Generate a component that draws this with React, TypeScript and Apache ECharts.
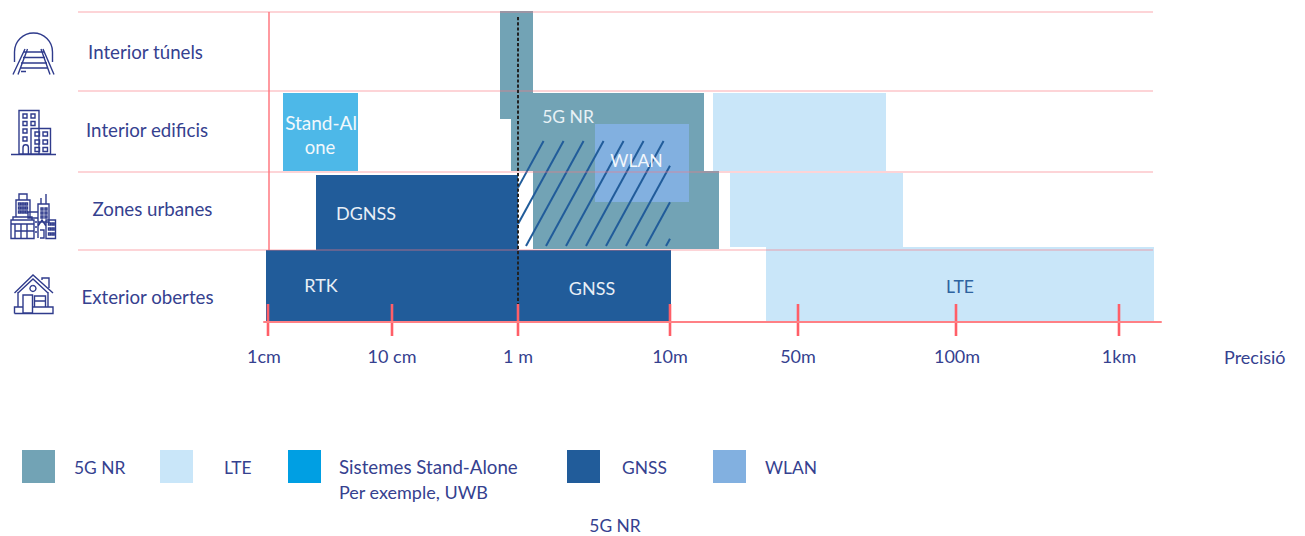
import React, { useEffect, useRef } from "react";
import * as echarts from "echarts";

const FONT = "Lato";
const INK = "#35418f";
const C = { nr: "#72a3b5", lte: "#c9e6f9", sa: "#4db8e8", saKey: "#009fe3", gnss: "#215c9a", wlan: "#82b0e0" };

// x axis: position along the precision scale; y axis: height above the baseline
const tickLabels = ["1cm", "10 cm", "1 m", "10m", "50m", "100m", "1km"];
const tickValues = [0, 124, 250, 402, 530, 688, 851];
const labelValues = [-4, 124, 250, 402, 530, 689, 851];
const rowLines = [310, 231, 150, 72];
const rowNames = ["Interior túnels", "Interior edificis", "Zones urbanes", "Exterior obertes"];
const rowNameX = [-122.5, -121, -115.5, -120.5];
const rowNameY = [270, 192, 113, 25];

// [x0, x1, y0, y1]
const lteBars = [[445, 618, 151, 229], [462, 635, 75, 149], [498, 886, 0, 75]];
const nrBars = [[232, 265, 203, 311], [243, 436, 151, 229], [232, 265, 229, 230], [265, 451, 73, 151]];
const saBars = [[15, 90, 151, 229]];
const gnssBars = [[48, 250, 72, 147], [-2, 250, 0, 72], [250, 403, 0, 72]];
const wlanBars = [[327, 421, 120, 198]];

const hatchBase = [218, 238, 258, 278, 298, 318, 338, 358, 378, 398];
const hatchX = [250, 402];
const hatchY = [76, 181];
const hatchSlope = 57 / 104;

const barTexts = ["Stand-Al", "one", "DGNSS", "RTK", "GNSS", "5G NR", "WLAN", "LTE"];
const barTextX = [53, 52, 98, 53, 324, 300, 368.5, 692];
const barTextY = [200, 175, 109, 37, 34, 206, 162, 36];
const barTextSize = [19, 18.5, 18, 18, 18, 17.5, 17.5, 17.5];
const barTextColor = ["#f2f8fc", "#f2f8fc", "#e8eff6", "#e8eff6", "#e8eff6", "#e8f1f5", "#f2f7fc", "#2e639f"];

const legendNames = ["5G NR", "LTE", "GNSS", "WLAN"];
const legendColors = [C.nr, C.lte, C.gnss, C.wlan];
const legendBoxX = [22, 160, 567, 713];
const legendTextX = [74, 224, 622, 765];

const sq = (x: number, y: number, w: number, h: number) => `M${x} ${y}h${w}v${h}h${-w}z`;
const grid = (xs: number[], ys: number[], w: number, h: number) =>
  xs.flatMap((x) => ys.map((y) => sq(x, y, w, h))).join("");

const iconTunnel =
  "M14.5 62V52A19 19 0 0 1 52.5 52V62M25 49L13 74.5M27.5 49L18 74.5M43 49L54 74.5M41 49L50 74.5" +
  "M24 52H44M23 57.5H45M21 63H47M20 68H48M21 71.5H26";
const iconBuilding =
  sq(19, 110.5, 20, 43.5) + sq(31, 128.5, 19.5, 25.5) + "M11 154.5H56M23 154V147.5A2.7 2.7 0 0 1 28.4 147.5V154" +
  grid([23, 31], [114, 121.5], 4, 4) + grid([23], [129, 137], 4, 4) + grid([35, 43], [132, 140, 147.5], 4.5, 4);
const iconCity =
  sq(16, 200, 14, 17) + sq(19, 194, 8, 6) + sq(38, 204, 11, 18) + "M41 204V198M46 204V194" +
  grid([18.5, 22, 25.5], [203, 207, 211], 2, 2) + grid([41, 45], [208, 212, 216], 2, 2) +
  sq(11, 220, 23, 18.5) + "M13 220V217H32V220" + "M11 224H34M15 224V238M21 224V238M27 224V238M15 231H34" +
  sq(28, 212, 10, 6) + "M34 218H38V238M35 222h2M35 227h2M35 232h2" +
  "M38 238V226L42 220L46 226V238M40 230H44V238H40" + sq(46, 220, 9.5, 18.5) + grid([48.5, 52], [223, 228, 233], 2, 2);
const iconHouse =
  "M14.5 293L33 275L53 293M18 293L33 279L48 293M42 280V278H49V288" +
  "M33 285.5A3 3 0 1 1 32.9 285.5M18 292V307M48 292V307" +
  sq(23, 295, 9.5, 18) + sq(34.5, 296, 11, 11) + "M34.5 301H45.5M14.5 313.5H53V307H32.5M23 307H14.5V313.5";

echarts.graphic.registerShape("iconTunnel", echarts.graphic.extendPath(iconTunnel, {}) as any);
echarts.graphic.registerShape("iconBuilding", echarts.graphic.extendPath(iconBuilding, {}) as any);
echarts.graphic.registerShape("iconCity", echarts.graphic.extendPath(iconCity, {}) as any);
echarts.graphic.registerShape("iconHouse", echarts.graphic.extendPath(iconHouse, {}) as any);

const barSeries = (data: number[][], color: string, z: number) => ({
  type: "custom",
  z,
  silent: true,
  clip: false,
  data,
  renderItem: (_: any, api: any) => {
    const a = api.coord([api.value(0), api.value(3)]);
    const b = api.coord([api.value(1), api.value(2)]);
    return { type: "rect", shape: { x: a[0], y: a[1], width: b[0] - a[0], height: b[1] - a[1] }, style: { fill: color } };
  },
});

const segSeries = (data: number[][], stroke: string, lineWidth: number, z: number, lineDash?: number[]) => ({
  type: "custom",
  z,
  silent: true,
  clip: false,
  data,
  renderItem: (_: any, api: any) => {
    const a = api.coord([api.value(0), api.value(1)]);
    const b = api.coord([api.value(2), api.value(3)]);
    return {
      type: "line",
      shape: { x1: a[0], y1: a[1], x2: b[0], y2: b[1] },
      style: { stroke, lineWidth, lineDash },
    };
  },
});

const textSeries = (
  texts: string[],
  xs: number[],
  ys: number[],
  colors: string[] | string,
  sizes: number[] | number,
  z: number,
) => ({
  type: "custom",
  z,
  silent: true,
  clip: false,
  data: texts.map((_, i) => [xs[i], ys[i]]),
  renderItem: (p: any, api: any) => {
    const a = api.coord([api.value(0), api.value(1)]);
    const size = Array.isArray(sizes) ? sizes[p.dataIndex] : sizes;
    return {
      type: "text",
      x: a[0],
      y: a[1],
      style: {
        text: texts[p.dataIndex],
        fill: Array.isArray(colors) ? colors[p.dataIndex] : colors,
        font: `${size}px ${FONT}`,
        align: "center",
        verticalAlign: "middle",
      },
    };
  },
});

const hatchSegments = hatchBase.map((x0) => {
  const at = (x: number) => hatchY[0] + (x - x0) / hatchSlope;
  let xa = x0;
  let ya = hatchY[0];
  let xb = x0 + (hatchY[1] - hatchY[0]) * hatchSlope;
  let yb = hatchY[1];
  if (xa < hatchX[0]) { xa = hatchX[0]; ya = at(xa); }
  if (xb > hatchX[1]) { xb = hatchX[1]; yb = at(xb); }
  return [xa, ya, xb, yb];
});

export default function App() {
  const ref = useRef<HTMLDivElement>(null);
  useEffect(() => {
    document.body.style.margin = "0";
    const chart = echarts.init(ref.current!, null, { renderer: "svg" });
    const legendGraphics: any[] = [];
    legendNames.forEach((n, i) => {
      legendGraphics.push({ type: "rect", x: legendBoxX[i], y: 450, shape: { width: 33, height: 33 }, style: { fill: legendColors[i] } });
      legendGraphics.push({ type: "text", x: legendTextX[i], y: 467, style: { text: n, fill: INK, font: `17.4px ${FONT}`, verticalAlign: "middle" } });
    });
    const iconStyle = { fill: "none", stroke: "#2f3b8c", lineWidth: 1.4 };
    chart.setOption({
      animation: false,
      grid: { left: 264, right: 144, top: 12, bottom: 214 },
      xAxis: {
        type: "value",
        min: -4,
        max: 893,
        z: 10,
        name: "Precisió",
        nameLocation: "end",
        nameGap: 63,
        nameTextStyle: { color: INK, fontFamily: FONT, fontSize: 18, verticalAlign: "top", lineHeight: 70 },
        axisLine: { show: true, lineStyle: { color: "#ff8085", width: 2 } },
        axisTick: { show: false },
        splitLine: { show: false },
        axisLabel: {
          margin: 25,
          color: INK,
          fontFamily: FONT,
          fontSize: 18,
          customValues: labelValues,
          hideOverlap: false,
          showMinLabel: true,
          showMaxLabel: true,
          formatter: (v: number) => tickLabels[labelValues.indexOf(v)] ?? "",
        },
      },
      yAxis: { type: "value", min: 0, max: 310, show: false },
      series: [
        segSeries([[1, 310, 1, 72]], "#ff9aa0", 2, 1),
        barSeries(lteBars, C.lte, 2),
        barSeries(nrBars, C.nr, 3),
        barSeries(saBars, C.sa, 3),
        barSeries(gnssBars, C.gnss, 4),
        barSeries(wlanBars, C.wlan, 5),
        segSeries(hatchSegments, C.gnss, 2, 6),
        segSeries(rowLines.map((y) => [-190, y, 885, y]), "rgba(251,120,128,0.42)", 1.6, 7),
        segSeries([[250, 305, 250, 18]], "#222222", 2, 8, [3.2, 2]),
        segSeries(tickValues.map((x) => [x, 18, x, -14]), "#ff5f68", 2.6, 9),
        textSeries(barTexts, barTextX, barTextY, barTextColor, barTextSize, 11),
        textSeries(rowNames, rowNameX, rowNameY, INK, 18.7, 11),
      ],
      graphic: [
        { type: "iconTunnel", x: 0, y: 0, style: iconStyle },
        { type: "iconBuilding", x: 0, y: 0, style: iconStyle },
        { type: "iconCity", x: 0, y: 0, style: iconStyle },
        { type: "iconHouse", x: 0, y: 0, style: iconStyle },
        ...legendGraphics,
        { type: "rect", x: 288, y: 450, shape: { width: 33, height: 33 }, style: { fill: C.saKey } },
        { type: "text", x: 339, y: 467, style: { text: "Sistemes Stand-Alone", fill: INK, font: `18.7px ${FONT}`, verticalAlign: "middle" } },
        { type: "text", x: 339, y: 492, style: { text: "Per exemple, UWB", fill: INK, font: `18px ${FONT}`, verticalAlign: "middle" } },
        { type: "text", x: 615, y: 525, style: { text: "5G NR", fill: INK, font: `17.4px ${FONT}`, align: "center", verticalAlign: "middle" } },
      ],
    });
    return () => chart.dispose();
  }, []);
  return <div ref={ref} style={{ position: "absolute", left: 0, top: 0, width: 1305, height: 536 }} />;
}
